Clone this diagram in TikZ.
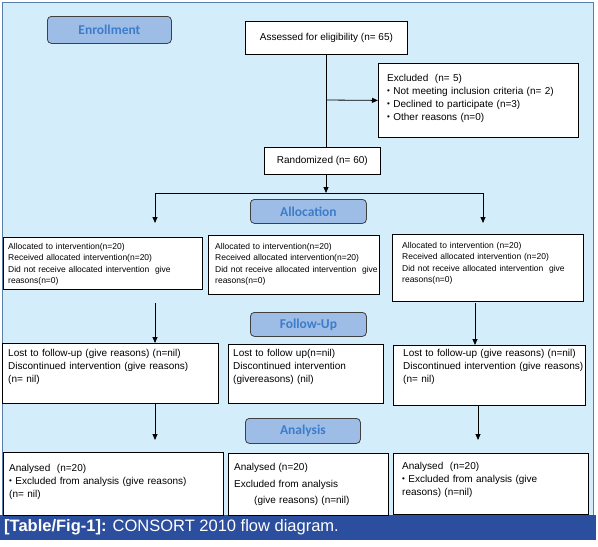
\documentclass[tikz,border=0pt]{standalone}
\usepackage{fontspec}
\setmainfont{Liberation Sans}
\newfontfamily\labfont{Carlito}
\usetikzlibrary{arrows.meta}
\definecolor{bgblue}{HTML}{D4EDFB}
\definecolor{labfill}{HTML}{9DBDE7}
\definecolor{labtext}{HTML}{3D7CC9}
\definecolor{capblue}{HTML}{2B4E9E}
\definecolor{framecol}{HTML}{5A7FA8}
\newcommand\bul{\raisebox{0.1ex}{\scalebox{0.8}{\textbullet}}\ }
\begin{document}
\begin{tikzpicture}[x=1pt,y=-1pt,
  box/.style={draw=black, line width=0.8pt, fill=white, anchor=north west, inner sep=0pt},
  txt/.style={align=left, anchor=base west, inner sep=0pt, text width=240pt,
    font=\fontsize{10}{13}\selectfont},
  stxt/.style={txt, font=\fontsize{8.5}{11.6}\selectfont},
  lab/.style={draw=black!75, line width=0.8pt, fill=labfill, rounded corners=4pt, anchor=north west,
    text=labtext, font=\labfont\bfseries\fontsize{13.5}{15}\selectfont, inner sep=0pt},
  arr/.style={draw=black, line width=0.8pt, -{Triangle[length=6pt,width=5pt]}},
  ln/.style={draw=black, line width=0.8pt}]
\useasboundingbox (0,0) rectangle (598,547);
% frame
\fill[bgblue] (2,2) rectangle (594,515);
\draw[framecol, line width=0.9pt] (2.5,515) -- (2.5,2.5) -- (593.5,2.5) -- (593.5,515);
\fill[capblue] (0,515) rectangle (596,540);
\node[anchor=west, text=white, font=\fontsize{16.5}{18}\selectfont, inner sep=0pt] (cap) at (4,527.5)
  {\textbf{[Table/Fig-1]:} CONSORT 2010 flow diagram.};
% labels
\node[lab, minimum width=124pt, minimum height=27pt] (enr) at (47,16) {Enrollment};
\node[lab, minimum width=116pt, minimum height=24pt] (alloc) at (250,199) {Allocation};
\node[lab, minimum width=116pt, minimum height=24pt] (fu) at (250,312) {Follow-Up};
\node[lab, minimum width=115pt, minimum height=25pt] (ana) at (245,418) {Analysis};
% enrollment boxes
\node[box, minimum width=162pt, minimum height=33pt, font=\fontsize{10}{13}\selectfont] (assess) at (245,21)
  {Assessed for eligibility (n= 65)};
\node[box, minimum width=200pt, minimum height=74pt] (excl) at (378,63) {};
\node[txt] (texcl) at (387,81.5)
  {Excluded\ \ (n= 5)\\
   \bul Not meeting inclusion criteria (n= 2)\\
   \bul Declined to participate (n=3)\\
   \bul Other reasons (n=0)};
\node[box, minimum width=116pt, minimum height=27pt, font=\fontsize{10}{13}\selectfont] (rand) at (264,147)
  {Randomized (n= 60)};
% allocation boxes
\node[box, minimum width=199pt, minimum height=52pt] (a1) at (3,237) {};
\node[stxt] (ta1) at (8,249)
  {Allocated to intervention(n=20)\\Received allocated intervention(n=20)\\
   Did not receive allocated intervention\ \ give\\reasons(n=0)};
\node[box, minimum width=171pt, minimum height=59pt] (a2) at (208,235) {};
\node[stxt] (ta2) at (215,249)
  {Allocated to intervention(n=20)\\Received allocated intervention(n=20)\\
   Did not receive allocated intervention\ \ give\\reasons(n=0)};
\node[box, minimum width=191pt, minimum height=67pt] (a3) at (392,234) {};
\node[stxt] (ta3) at (402,248)
  {Allocated to intervention (n=20)\\Received allocated intervention (n=20)\\
   Did not receive allocated intervention\ \ give\\reasons(n=0)};
% follow-up boxes
\node[box, minimum width=216pt, minimum height=60pt] (f1) at (2,343) {};
\node[txt] (tf1) at (8,356.5)
  {Lost to follow-up (give reasons) (n=nil)\\Discontinued intervention (give reasons)\\(n= nil)};
\node[box, minimum width=155pt, minimum height=59pt] (f2) at (228,344) {};
\node[txt] (tf2) at (233,356.5)
  {Lost to follow up(n=nil)\\Discontinued intervention\\(givereasons) (nil)};
\node[box, minimum width=192pt, minimum height=60pt] (f3) at (393,345) {};
\node[txt] (tf3) at (403,356.5)
  {Lost to follow-up (give reasons) (n=nil)\\Discontinued intervention (give reasons)\\(n= nil)};
% analysis boxes
\node[box, minimum width=220pt, minimum height=63pt] (n1) at (3,452) {};
\node[txt] (tn1) at (9,471.5)
  {Analysed\ \ (n=20)\\\bul Excluded from analysis (give reasons)\\(n= nil)};
\node[box, minimum width=160pt, minimum height=62pt] (n2) at (228,453) {};
\node[txt, font=\fontsize{10}{16.5}\selectfont] (tn2) at (234,470.5)
  {Analysed (n=20)\\Excluded from analysis\\\hspace*{20pt}(give reasons) (n=nil)};
\node[box, minimum width=195pt, minimum height=61pt] (n3) at (393,453) {};
\node[txt] (tn3) at (402,469.5)
  {Analysed\ \ (n=20)\\\bul Excluded from analysis (give\\reasons) (n=nil)};
% connectors
\coordinate (branch) at (326,100);
\coordinate (split) at (326,193);
\coordinate (splitL) at (155,193);
\coordinate (splitR) at (483,193);
\coordinate (inL) at (155,223);
\coordinate (inR) at (483,223);
\coordinate (outL) at (155,303);
\coordinate (outR) at (475,303);
\coordinate (endL) at (155,440);
\coordinate (endR) at (478,440);
\draw[ln] (assess.south -| branch) -- (rand.north -| branch);
\draw[arr] (branch) -- (excl.west);
\draw[arr] (rand.south -| split) -- (split);
\draw[ln] (splitL) -- (splitR);
\draw[arr] (splitL) -- (inL);
\draw[arr] (splitR) -- (inR);
\draw[arr] (outL) -- (f1.north -| outL);
\draw[arr] (outR) -- (f3.north -| outR);
\draw[arr] (f1.south -| endL) -- (endL);
\draw[arr] (f3.south -| endR) -- (endR);
\end{tikzpicture}
\end{document}
